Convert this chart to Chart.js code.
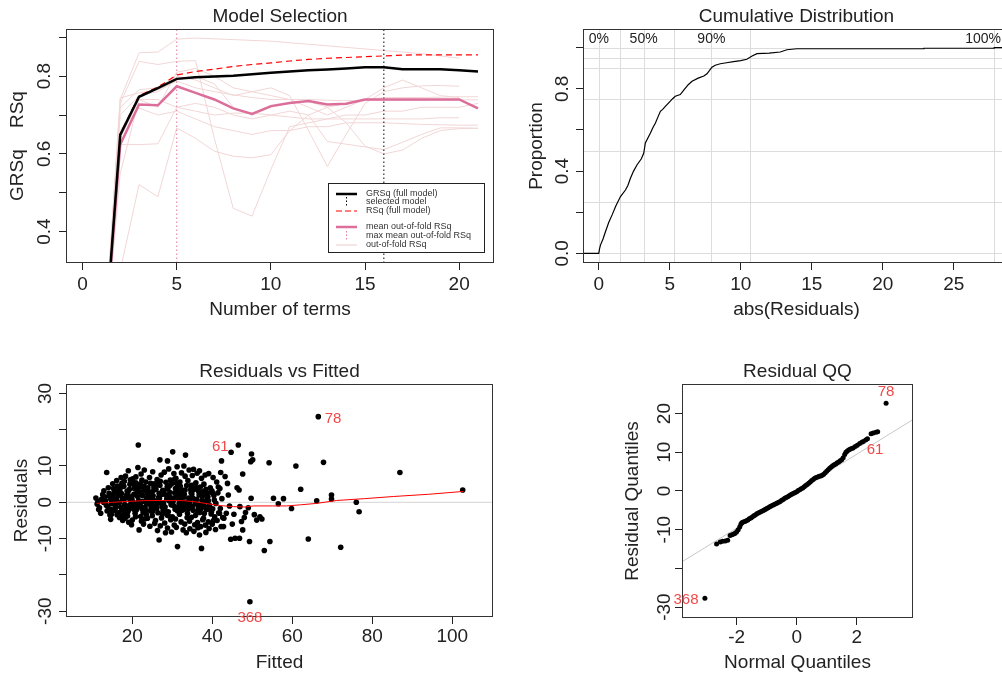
<!DOCTYPE html>
<html>
<head>
<meta charset="utf-8">
<script src="https://cdn.jsdelivr.net/npm/chart.js@4/dist/chart.umd.min.js"></script>
<style>
  html, body { margin: 0; padding: 0; background: #fff; width: 1002px; height: 680px; overflow: hidden; position: relative; }
  canvas { position: absolute; }
</style>
</head>
<body>
<canvas id="selChart" width="501" height="340" style="left:0;top:0"></canvas>
<canvas id="cdfChart" width="520" height="340" style="left:501px;top:0"></canvas>
<canvas id="resChart" width="501" height="340" style="left:0;top:340px"></canvas>
<canvas id="qqChart" width="501" height="340" style="left:501px;top:340px"></canvas>
<script>
// ---- model selection (top left) ----
const terms = [1,2,3,4,5,6,7,8,9,10,11,12,13,14,15,16,17,18,19,20,21];
const grsq = [0.0,0.649,0.747,0.769,0.793,0.797,0.799,0.801,0.805,0.809,0.812,0.815,0.817,0.820,0.823,0.823,0.818,0.818,0.818,0.815,0.812];
const rsq = [0.0,0.652,0.750,0.772,0.803,0.812,0.818,0.825,0.830,0.834,0.839,0.843,0.846,0.848,0.850,0.852,0.854,0.855,0.855,0.855,0.855];
const meanOof = [0.0,0.624,0.727,0.725,0.774,0.757,0.740,0.717,0.703,0.723,0.731,0.736,0.727,0.729,0.740,0.740,0.740,0.740,0.740,0.740,0.717];
const oofRsq = [
  [0,0.74,0.860,0.862,0.895,0.898,0.896,0.894,0.892,0.890,0.886,0.882,0.878,0.874,0.870,0.866,0.862,0.858,0.852,0.846],
  [0,0.73,0.838,0.830,0.838,0.840,0.640,0.460,0.440,0.560,0.670,0.680,0.690,0.700,0.700,0.710,0.710,0.720,0.720,0.720,0.730],
  [0,0.72,0.765,0.770,0.800,0.790,0.770,0.750,0.760,0.770,0.750,0.660,0.568,0.650,0.730,0.760,0.770,0.775,0.776,0.774],
  [0,0.30,0.521,0.490,0.667,0.640,0.607,0.594,0.590,0.598,0.660,0.700,0.720,0.730,0.740,0.745,0.745,0.745,0.746,0.747,0.747],
  [0,0.624,0.624,0.626,0.720,0.730,0.720,0.700,0.690,0.700,0.710,0.700,0.632,0.625,0.618,0.611,0.630,0.650,0.667,0.667,0.666],
  [0,0.744,0.757,0.765,0.787,0.770,0.760,0.752,0.745,0.740,0.740,0.740,0.738,0.737,0.737,0.738,0.738,0.738,0.739,0.739,0.739],
  [0,0.64,0.740,0.740,0.720,0.710,0.700,0.705,0.705,0.700,0.695,0.690,0.690,0.690,0.690,0.690,0.690,0.690,0.693,0.693],
  [0,0.66,0.718,0.700,0.710,0.690,0.670,0.660,0.650,0.660,0.660,0.670,0.670,0.680,0.680,0.680,0.678,0.676,0.675,0.674,0.674],
  [0,0.55,0.740,0.720,0.810,0.820,0.800,0.770,0.760,0.750,0.740,0.720,0.700,0.720,0.740,0.770,0.790,0.770,0.750,0.745],
  [0,0.70,0.750,0.760,0.790,0.800,0.780,0.720,0.700,0.720,0.730,0.735,0.720,0.680,0.620,0.600,0.610,0.640,0.660,0.665,0.666]
];
const selectedTerms = 16;
const maxOofTerms = 5;
const selXTicks = [0,5,10,15,20];
const selYTicks = [0.4,0.5,0.6,0.7,0.8,0.9];
const selYLabels = ['0.4','','0.6','','0.8',''];

// ---- cumulative distribution (top right) ----
const cdfX = [-1.2,0,0.05,0.12,0.3,0.47,0.7,0.94,1.2,1.53,1.88,2.05,2.23,2.45,2.7,3.0,3.17,3.28,3.45,3.64,3.8,3.99,4.15,4.34,4.5,4.69,5.04,5.2,5.39,5.74,6.0,6.3,6.57,7.0,7.4,7.62,7.97,8.2,8.56,9.0,9.49,10.0,10.43,10.8,11.14,12.0,12.78,13.25,13.95,22.9,22.9,27.85,27.85,29.5];
const cdfY = [0,0,0.02,0.04,0.07,0.105,0.15,0.187,0.23,0.276,0.308,0.33,0.365,0.40,0.431,0.46,0.488,0.537,0.56,0.585,0.61,0.634,0.66,0.691,0.70,0.715,0.74,0.752,0.764,0.772,0.795,0.82,0.837,0.852,0.862,0.873,0.905,0.915,0.922,0.927,0.932,0.937,0.944,0.96,0.971,0.974,0.979,0.990,0.995,0.995,0.9975,0.9975,1.0,1.0];
const quantAbs = [0,1.5,3.16,5.27,7.93,10.67,27.85];
const quantProp = [0,0.25,0.5,0.75,0.9,0.95,1.0];
const quantLabels = ['0%','','50%','','90%','','100%'];
const cdfXTicks = [0,5,10,15,20,25];
const cdfYTicks = [0,0.2,0.4,0.6,0.8,1.0];
const cdfYLabels = ['0.0','','0.4','','0.8',''];

// ---- residuals vs fitted (bottom left) ----
const cloudFitted = [
  [11.2,10.9,11.6,11.4],
  [12.3,11.8,12.6,12.1,12.8],
  [13.1,13.5,12.9,13.7,13.3,13.6],
  [14.2,13.9,14.6,14.4,14.0,14.8,14.6,14.3,14.7],
  [15.3,14.9,15.6,15.1,15.8,15.4,14.8,15.2,15.0,15.5],
  [16.1,16.5,15.9,16.7,16.3,16.0,16.8,16.4,15.8,16.2,16.6],
  [17.2,16.9,17.5,17.1,17.7,17.4,16.8,17.6,17.3,17.0,17.4],
  [18.3,17.9,18.6,18.1,18.5,17.8,18.2,18.7,18.4,18.0,18.5,18.1],
  [19.0,19.4,18.9,19.6,19.2,18.8,19.5,19.1,19.7,19.3,19.3,18.9],
  [20.1,20.5,19.9,20.3,20.7,20.0,20.6,20.2,19.8,20.4,20.4,20.0],
  [21.4,21.5,20.9,21.2,21.6,21.0,20.8,21.7,21.3,21.1,20.9,21.2,21.5],
  [22.2,21.9,22.5,22.0,22.7,22.3,21.8,22.6,22.1,22.4,22.4,22.0],
  [23.0,23.4,22.9,23.6,23.2,23.5,22.8,23.3,23.7,23.1,23.3,22.9],
  [24.3,23.9,24.6,24.1,24.5,23.8,24.2,24.7,24.0,24.4,24.2,24.6],
  [25.1,25.5,24.9,25.3,25.7,25.0,25.6,25.2,24.8,25.4,25.0,25.4],
  [26.9,26.2,25.9,26.6,26.0,26.4,25.8,26.3,26.7,26.1,26.7,26.1,26.5],
  [27.2,26.9,27.5,27.1,27.7,27.3,26.8,27.6,27.0,27.4,27.5,27.0],
  [28.8,28.0,28.4,27.9,28.6,28.2,28.7,28.1,28.5,27.8,28.3,28.3,28.7],
  [29.1,29.5,28.9,29.3,29.7,29.0,29.6,29.2,28.8,29.4,29.4,29.0],
  [30.1,30.4,29.9,30.6,30.2,30.7,30.0,30.5,29.8,30.3,30.8,30.3,30.6],
  [31.2,30.9,31.5,31.1,31.7,31.3,30.8,31.3,31.6,31.0,31.4,31.4,31.1],
  [32.3,31.9,32.6,32.1,32.5,31.8,32.2,32.7,32.0,32.4,32.4,32.0],
  [33.3,32.9,33.2,33.6,33.0,33.4,32.8,33.7,33.1,33.5,32.9,33.2,33.6],
  [34.2,33.9,34.6,34.1,34.5,33.8,34.3,34.7,34.0,34.4,34.3,34.7],
  [35.3,35.0,35.5,34.9,35.7,35.2,34.8,35.6,35.1,35.4,35.0,35.4],
  [36.2,35.9,36.6,36.1,36.5,35.8,36.3,36.7,36.0,36.4,36.3,35.9],
  [36.8,37.3,37.0,37.5,37.2,36.9,37.6,37.1,37.3,37.4,36.8,37.2,37.6],
  [38.2,37.9,38.6,38.1,38.5,37.8,38.3,38.7,38.0,38.4,38.0,38.4],
  [39.1,39.5,38.9,39.3,39.7,39.0,39.6,39.2,39.4,39.0],
  [40.2,39.9,40.5,40.1,40.6,40.0,40.4,39.8,40.3,40.0],
  [41.1,41.4,40.9,41.6,41.2,40.8,41.5],
  [42.1,42.3,41.9,42.4,42.0,42.6,42.2,41.8]
];
const cloudResid = [
  [-0.5,1.2,-2.0,0.3],
  [0.8,-1.5,2.1,-3.0,0.0],
  [1.5,-0.8,3.2,-2.4,0.4,8.2],
  [2.5,-1.2,0.9,-3.5,4.0,-0.2,-4.7,1.6,-2.0],
  [3.8,1.0,-2.2,5.1,-1.0,0.2,-3.3,2.0,-0.4,2.9],
  [6.0,2.8,-0.5,-2.8,4.5,0.8,-4.2,1.8,-1.6,-3.4,3.4],
  [6.8,3.5,1.2,-1.3,-3.6,5.2,0.0,-5.0,2.4,4.2,-2.1],
  [7.2,4.4,2.0,-0.6,-2.5,0.9,-4.4,3.1,-1.8,5.8,1.2,-3.2],
  [8.7,5.0,2.6,0.4,-1.9,-3.8,6.2,-5.5,1.5,-0.8,3.6,-2.6],
  [6.5,3.8,1.0,-1.2,-3.0,-4.9,4.6,0.1,-6.2,2.2,-1.9,5.5],
  [9.6,15.8,5.4,3.0,0.5,-2.1,-4.0,-7.6,1.7,-0.6,7.0,-1.3,4.1],
  [7.8,4.2,1.9,-0.9,-2.8,-5.2,2.9,0.3,-3.9,6.1,-1.8,5.0],
  [8.9,5.6,3.3,1.1,-1.4,-3.4,-6.0,0.0,2.4,-4.6,-2.3,4.4],
  [6.8,4.0,2.1,-0.4,-2.3,-4.4,1.0,-1.2,3.0,-6.6,0.4,5.2],
  [8.4,5.1,2.8,0.6,-1.6,-3.7,-5.8,1.8,-0.5,4.2,-2.6,3.4],
  [11.7,6.3,3.6,1.4,-0.8,-2.9,-5.0,-7.8,2.5,0.2,-10.4,-1.8,4.9],
  [7.5,4.7,2.2,-0.1,-2.2,-4.3,1.1,3.3,-6.5,-1.2,-3.2,5.8],
  [11.4,8.3,5.5,3.0,0.9,-1.3,-3.5,-5.7,2.0,-0.3,-8.4,-2.4,4.2],
  [9.2,6.1,3.7,1.5,-0.7,-2.6,-4.8,0.4,-7.1,4.6,2.7,-3.7],
  [13.9,7.9,5.2,2.6,0.3,-1.9,-4.0,-6.3,-8.2,1.2,3.8,-0.9,6.4],
  [9.8,6.6,4.1,1.8,-0.4,-2.4,-4.6,-12.2,0.8,-6.9,2.9,-1.4,5.2],
  [8.1,5.6,3.3,1.0,-1.2,-3.3,-5.4,-7.6,2.2,0.0,-2.2,4.4],
  [13.0,10.0,7.2,4.6,2.2,0.0,-2.0,-4.2,-6.0,-8.4,1.4,3.4,-1.0],
  [8.9,6.0,3.5,1.2,-0.9,-3.0,-5.2,2.6,-1.8,-7.3,0.2,4.7],
  [9.1,7.4,4.8,2.3,0.1,-2.2,-4.1,-6.2,1.2,-8.0,-1.1,3.5],
  [8.0,5.4,3.0,0.8,-1.4,-3.6,-5.6,2.0,-0.4,-7.0,-2.5,4.1],
  [8.7,6.6,4.2,1.7,-0.6,-2.8,-4.8,-6.7,-12.7,0.5,-9.0,-1.7,2.9],
  [7.5,5.0,2.4,0.2,-2.0,-4.4,-6.3,1.2,-1.0,-8.3,-3.1,3.6],
  [7.9,4.0,1.5,-0.8,-3.2,-5.4,2.8,-7.2,-2.0,0.4],
  [6.8,3.2,0.6,-1.8,-4.0,-6.0,1.9,-2.6,-5.0,2.6],
  [5.6,2.6,-0.3,-2.9,-5.0,-7.5,4.2],
  [8.2,11.4,3.8,1.0,-1.7,-4.2,-6.7,-3.0]
];
const sparseFitted = [43.2,42.9,42.8,44.7,46.5,47.6,49.8,50.1,49.6,54.2,46.7,46.2,46.9,49.7,49.0,48.3,51.9,51.1,45.4,47.3,47.6,44.6,45.7,46.8,49.3,54.4,53.0,55.3,57.8,56.5,59.8,60.9,62.1,64.0,66.1,67.8,66.5,69.8,69.8,72.1,76.0,76.7,86.9,102.6,49.4,43.5,44.0,43.8,45.0,44.3,48.0,50.5,52.4];
const sparseResid = [7.1,-4.4,-6.7,13.8,15.8,7.8,13.3,11.7,11.2,10.9,3.4,4.0,-1.2,1.1,-1.5,-2.8,-4.0,-4.9,-3.3,-5.3,-7.6,-10.2,-9.9,-9.9,-10.8,-10.8,-13.3,1.1,1.0,-0.4,-1.7,10.0,3.6,-10.1,0.4,11.0,23.6,2.0,0.9,-12.4,0.0,-2.6,8.2,3.4,-27.4,-3.0,2.0,5.2,-6.0,-1.0,-4.2,-3.4,-4.6];
const smoothX = [11.1,15,20,22.8,27,32.8,36,39.4,42,45.3,48,50.3,55,58.6,62,66.1,71.1,78,85.3,94,102.8];
const smoothY = [-0.3,0.0,0.3,0.45,0.5,0.45,0.1,-0.5,-0.9,-1.2,-1.3,-1.0,-1.0,-1.0,-0.7,-0.3,0.5,1.0,1.6,2.2,3.0];
const resXTicks = [20,40,60,80,100];
const resYTicks = [-30,-20,-10,0,10,20,30];
const resYLabels = ['-30','','-10','0','10','','30'];
const resNotes = [{ t: '78', x: 70.2, y: 22.9 }, { t: '61', x: 42.0, y: 15.2 }, { t: '368', x: 49.4, y: -31.7 }];

// ---- residual QQ (bottom right) ----
const qqTheo = [-3.06,-2.67,-2.55,-2.47,-2.38,-2.30,-2.22,-2.16,-2.10,-2.05,-2.00,-1.95,-1.90,-1.86,-1.83,-1.78,-1.73,-1.68,-1.63,-1.58,-1.53,-1.48,-1.43,-1.38,-1.33,-1.28,-1.23,-1.18,-1.13,-1.08,-1.04,-1.00,-0.95,-0.90,-0.85,-0.80,-0.75,-0.70,-0.65,-0.60,-0.55,-0.50,-0.45,-0.40,-0.35,-0.30,-0.25,-0.20,-0.15,-0.10,-0.05,0.00,0.05,0.10,0.15,0.20,0.25,0.30,0.35,0.40,0.45,0.50,0.55,0.60,0.65,0.70,0.75,0.80,0.85,0.90,0.95,1.00,1.05,1.10,1.15,1.20,1.25,1.30,1.35,1.40,1.45,1.50,1.55,1.60,1.64,1.68,1.73,1.78,1.83,1.88,1.95,2.02,2.10,2.17,2.22,2.30,2.36,2.48,2.55,2.64,2.70,2.98];
const qqResid = [-27.7,-13.7,-13.2,-13.0,-12.9,-12.7,-11.5,-11.3,-11.1,-10.9,-10.5,-10.0,-9.3,-8.6,-8.2,-8.0,-7.9,-7.7,-7.5,-7.2,-7.0,-6.7,-6.4,-6.2,-5.9,-5.7,-5.5,-5.3,-5.1,-4.9,-4.7,-4.5,-4.3,-4.1,-3.9,-3.7,-3.5,-3.3,-3.1,-2.9,-2.7,-2.4,-2.2,-1.9,-1.7,-1.5,-1.2,-1.0,-0.8,-0.6,-0.4,-0.2,0.1,0.3,0.6,0.8,1.1,1.4,1.7,2.0,2.3,2.7,3.0,3.3,3.5,3.6,3.8,3.9,4.1,4.3,4.7,5.1,5.5,5.9,6.2,6.5,6.8,7.0,7.3,7.5,7.8,8.1,8.6,9.4,10.0,10.3,10.6,10.8,11.0,11.1,11.5,11.8,12.3,12.6,12.8,13.2,13.5,14.8,15.0,15.2,15.3,22.7];
const qqLineX = [-3.823,3.877];
const qqLineY = [-18.3,18.45];
const qqXTicks = [-2,0,2];
const qqYTicks = [-30,-20,-10,0,10,20];
const qqYLabels = ['-30','','-10','0','10','20'];
const qqNotes = [{ t: '78', x: 2.98, y: 25.5 }, { t: '61', x: 2.61, y: 10.6 }, { t: '368', x: -3.69, y: -28.2 }];

// ---------------------------------------------------------------
const FONT = '"Liberation Sans", Arial, Helvetica, sans-serif';
const INK = '#222';
const NOTE_RED = '#f04848';
Chart.defaults.font.family = FONT;
Chart.defaults.font.size = 19;
Chart.defaults.color = INK;
Chart.defaults.animation = false;

const xy = (xs, ys) => xs.map((x, i) => ({ x, y: ys[i] }));

function scaleX(min, max, ticks, labels, height, title, titlePad, tickPad) {
  return {
    type: 'linear', position: 'bottom', min, max,
    afterBuildTicks: s => { s.ticks = ticks.map(v => ({ value: v })); },
    afterFit: s => { s.height = height; },
    grid: { drawOnChartArea: false, drawTicks: true, tickLength: 7, tickColor: INK, tickWidth: 1 },
    border: { display: false },
    ticks: { autoSkip: false, maxRotation: 0, minRotation: 0, padding: tickPad, color: INK, callback: (v, i) => labels[i] },
    title: { display: true, text: title, color: INK, padding: { top: 0, bottom: titlePad } }
  };
}

function scaleY(min, max, ticks, labels, width, title, titlePad, tickPad) {
  return {
    type: 'linear', position: 'left', min, max,
    afterBuildTicks: s => { s.ticks = ticks.map(v => ({ value: v })); },
    afterFit: s => { s.width = width; },
    grid: { drawOnChartArea: false, drawTicks: true, tickLength: 7, tickColor: INK, tickWidth: 1 },
    border: { display: false },
    ticks: { autoSkip: false, minRotation: 90, maxRotation: 90, crossAlign: 'center', padding: tickPad, color: INK, callback: (v, i) => labels[i] },
    title: { display: true, text: title, color: INK, padding: { top: titlePad, bottom: 0 } }
  };
}

function line(data, color, width, dash, order) {
  return { data, borderColor: color, backgroundColor: color, borderWidth: width, borderDash: dash || [], pointRadius: 0, showLine: true, tension: 0, order };
}
function dots(data, r, order) {
  return { data, backgroundColor: '#000', borderColor: '#000', borderWidth: 0, pointRadius: r, showLine: false, order };
}

// box, title and red point labels
const frame = {
  id: 'frame',
  afterDraw(chart, args, o) {
    const { ctx, chartArea: a, scales } = chart;
    ctx.save();
    ctx.strokeStyle = '#333'; ctx.lineWidth = 1;
    ctx.strokeRect(Math.round(a.left) + 0.5, Math.round(a.top) + 0.5, Math.round(a.width) - 1, Math.round(a.height) - 1);
    ctx.fillStyle = INK; ctx.font = '19px ' + FONT;
    ctx.textAlign = 'center'; ctx.textBaseline = 'middle';
    ctx.fillText(o.title, (a.left + a.right) / 2, a.top - 12);
    ctx.fillStyle = NOTE_RED; ctx.font = '15px ' + FONT;
    (o.notes || []).forEach(n => ctx.fillText(n.t, scales.x.getPixelForValue(n.x), scales.y.getPixelForValue(n.y)));
    ctx.restore();
  }
};
Chart.register(frame);

function panel(id, cfg) {
  return new Chart(document.getElementById(id), {
    type: 'scatter',
    data: { datasets: cfg.datasets },
    plugins: cfg.plugins || [],
    options: {
      responsive: false, animation: false,
      layout: { padding: cfg.pad },
      plugins: { legend: { display: false }, tooltip: { enabled: false }, frame: { title: cfg.title, notes: cfg.notes } },
      scales: { x: cfg.x, y: cfg.y }
    }
  });
}

// legend box of the model selection plot
const selLegend = {
  id: 'selLegend',
  afterDatasetsDraw(chart) {
    const { ctx } = chart;
    const rows = [
      { y: 194, text: 'GRSq (full model)', kind: 'h', color: '#000', w: 2.5, dash: [] },
      { y: 202, text: 'selected model', kind: 'v', color: '#000', w: 1, dash: [1.5, 2] },
      { y: 211, text: 'RSq (full model)', kind: 'h', color: '#ff0000', w: 1.2, dash: [6, 3] },
      { y: 227, text: 'mean out-of-fold RSq', kind: 'h', color: '#dc6e9a', w: 2.5, dash: [] },
      { y: 236, text: 'max mean out-of-fold RSq', kind: 'v', color: '#e07aa0', w: 1, dash: [1.5, 2] },
      { y: 245, text: 'out-of-fold RSq', kind: 'h', color: '#f0d4d4', w: 1.2, dash: [] }
    ];
    ctx.save();
    ctx.fillStyle = '#fff';
    ctx.fillRect(328, 183, 157, 70);
    ctx.strokeStyle = '#222'; ctx.lineWidth = 1;
    ctx.strokeRect(328.5, 183.5, 156, 69);
    ctx.font = '9px ' + FONT; ctx.textBaseline = 'middle'; ctx.textAlign = 'left';
    rows.forEach(r => {
      ctx.strokeStyle = r.color; ctx.lineWidth = r.w; ctx.setLineDash(r.dash);
      ctx.beginPath();
      if (r.kind === 'h') { ctx.moveTo(336, r.y); ctx.lineTo(357, r.y); }
      else { ctx.moveTo(346.5, r.y - 5); ctx.lineTo(346.5, r.y + 5); }
      ctx.stroke();
      ctx.setLineDash([]);
      ctx.fillStyle = '#333';
      ctx.fillText(r.text, 366, r.y);
    });
    ctx.restore();
  }
};

// quantile guides of the cumulative distribution
const cdfGuides = {
  id: 'cdfGuides',
  beforeDatasetsDraw(chart) {
    const { ctx, chartArea: a, scales: { x, y } } = chart;
    ctx.save();
    ctx.beginPath(); ctx.rect(a.left, a.top, a.width, a.height); ctx.clip();
    ctx.strokeStyle = '#dcdcdc'; ctx.lineWidth = 1;
    quantAbs.forEach(v => {
      const px = Math.round(x.getPixelForValue(v)) + 0.5;
      ctx.beginPath(); ctx.moveTo(px, a.top); ctx.lineTo(px, a.bottom); ctx.stroke();
    });
    quantProp.forEach(v => {
      const py = Math.round(y.getPixelForValue(v)) + 0.5;
      ctx.beginPath(); ctx.moveTo(a.left, py); ctx.lineTo(a.right, py); ctx.stroke();
    });
    ctx.font = '14px ' + FONT; ctx.fillStyle = INK;
    ctx.textAlign = 'center'; ctx.textBaseline = 'middle';
    quantLabels.forEach((t, i) => {
      if (!t) return;
      const w = ctx.measureText(t).width;
      const px = Math.min(x.getPixelForValue(quantAbs[i]), 500 - w / 2);
      ctx.fillText(t, px, a.top + 10);
    });
    ctx.restore();
  }
};

// top left
panel('selChart', {
  title: 'Model Selection',
  pad: { left: 0, top: 29, right: 7, bottom: 0 },
  x: scaleX(-0.88, 21.85, selXTicks, selXTicks.map(String), 77, 'Number of terms', 18.6, 3.6),
  y: scaleY(0.3194, 0.9213, selYTicks, selYLabels, 66, 'GRSq    RSq', 6.6, 0.8),
  plugins: [selLegend],
  datasets: [
    line(xy(terms, grsq), '#000', 2.5, [], 0),
    line(xy(terms, rsq), '#ff0000', 1.2, [6, 4], 1),
    line(xy(terms, meanOof), '#dc6e9a', 2.5, [], 2),
    line([{ x: selectedTerms, y: 0.3194 }, { x: selectedTerms, y: 0.9213 }], '#000', 1, [1.5, 2.5], 3),
    line([{ x: maxOofTerms, y: 0.3194 }, { x: maxOofTerms, y: 0.9213 }], '#e07aa0', 1, [1.5, 2.5], 4),
    ...oofRsq.map(f => line(xy(terms.slice(0, f.length), f), '#f2d6d6', 1, [], 5))
  ]
});

// top right
panel('cdfChart', {
  title: 'Cumulative Distribution',
  pad: { left: 0, top: 29, right: 11, bottom: 0 },
  x: scaleX(-1.11, 28.96, cdfXTicks, cdfXTicks.map(String), 77, 'abs(Residuals)', 18.6, 3.6),
  y: scaleY(-0.047, 1.091, cdfYTicks, cdfYLabels, 82, 'Proportion', 24.6, 0),
  plugins: [cdfGuides],
  datasets: [line(xy(cdfX, cdfY), '#000', 1.2, [], 0)]
});

// bottom left
const cloudPts = cloudFitted.flatMap((col, i) => xy(col, cloudResid[i]));
panel('resChart', {
  title: 'Residuals vs Fitted',
  notes: resNotes,
  pad: { left: 0, top: 44, right: 8, bottom: 0 },
  x: scaleX(3.425, 110.175, resXTicks, resXTicks.map(String), 63, 'Fitted', 5.6, 1.6),
  y: scaleY(-31.6, 32.59, resYTicks, resYLabels, 66, 'Residuals', 10.6, 0),
  datasets: [
    line(xy(smoothX, smoothY), '#ff0000', 1, [], 0),
    dots(cloudPts.concat(xy(sparseFitted, sparseResid)), 2.8, 1),
    line([{ x: 3.425, y: 0 }, { x: 110.175, y: 0 }], '#d3d3d3', 1, [], 2)
  ]
});

// bottom right
panel('qqChart', {
  title: 'Residual QQ',
  notes: qqNotes,
  pad: { left: 0, top: 44, right: 89, bottom: 0 },
  x: scaleX(-3.823, 3.877, qqXTicks, qqXTicks.map(String), 62, 'Normal Quantiles', 5.6, 1.6),
  y: scaleY(-32.82, 27.65, qqYTicks, qqYLabels, 181, 'Residual Quantiles', 120.6, -3),
  datasets: [
    dots(xy(qqTheo, qqResid), 2.5, 0),
    line(xy(qqLineX, qqLineY), '#c8c8c8', 1, [], 1)
  ]
});
</script>
</body>
</html>
